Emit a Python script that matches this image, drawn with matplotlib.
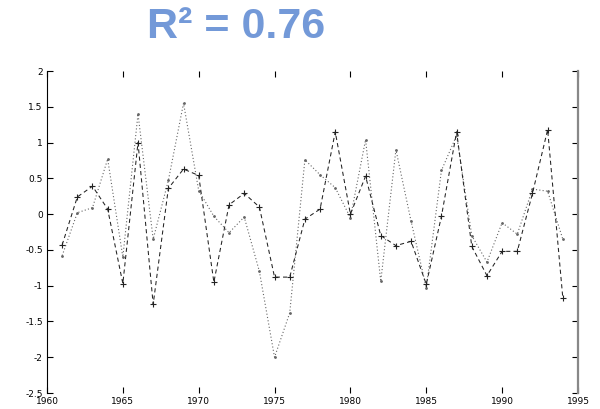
import matplotlib
matplotlib.use("Agg")
import matplotlib.pyplot as plt

# годы и две серии
years = list(range(1961, 1995))
obs = [-0.43, 0.24, 0.39, 0.07, -0.97, 1.0, -1.26, 0.36, 0.63, 0.54,
       -0.95, 0.13, 0.29, 0.1, -0.88, -0.88, -0.07, 0.07, 1.15, 0.0,
       0.53, -0.3, -0.44, -0.38, -0.98, -0.03, 1.15, -0.45, -0.86, -0.52,
       -0.52, 0.29, 1.18, -1.17]
model = [-0.58, 0.02, 0.09, 0.77, -0.6, 1.4, -0.35, 0.47, 1.55, 0.33,
         -0.03, -0.26, -0.04, -0.8, -2.0, -1.38, 0.76, 0.55, 0.37, -0.05,
         1.04, -0.94, 0.9, -0.1, -1.03, 0.61, 1.1, -0.3, -0.67, -0.12,
         -0.28, 0.35, 0.32, -0.35]

xticks = [1960, 1965, 1970, 1975, 1980, 1985, 1990, 1995]
yticks = [2, 1.5, 1, 0.5, 0, -0.5, -1, -1.5, -2, -2.5]

fig = plt.figure(figsize=(6, 4.09), dpi=100)
ax = fig.add_axes([0.0783, 0.039, 0.885, 0.7874])

ax.plot(years, model, linestyle=(0, (1, 2)), color="#666666", lw=0.8,
        marker=".", ms=2)
ax.plot(years, obs, linestyle=(0, (4, 3)), color="#222222", lw=0.75,
        marker="+", ms=5, mew=0.8)

ax.set_xlim(1960, 1995)
ax.set_ylim(-2.5, 2)
ax.set_xticks(xticks)
ax.set_yticks(yticks)
ax.set_yticklabels([str(t) for t in yticks])
ax.tick_params(direction="in", length=4, width=0.8, labelsize=6.5,
               top=True, right=True, pad=3)

ax.spines["top"].set_visible(False)
ax.spines["bottom"].set_visible(False)
ax.spines["left"].set_linewidth(0.8)
ax.spines["right"].set_color("#888888")
ax.spines["right"].set_linewidth(1.6)

fig.text(0.394, 0.934, "R² = 0.76", fontsize=31, fontweight="bold",
         color="#7399d8", family="Liberation Sans", ha="center", va="center")

fig.savefig("out.png", dpi=100)
